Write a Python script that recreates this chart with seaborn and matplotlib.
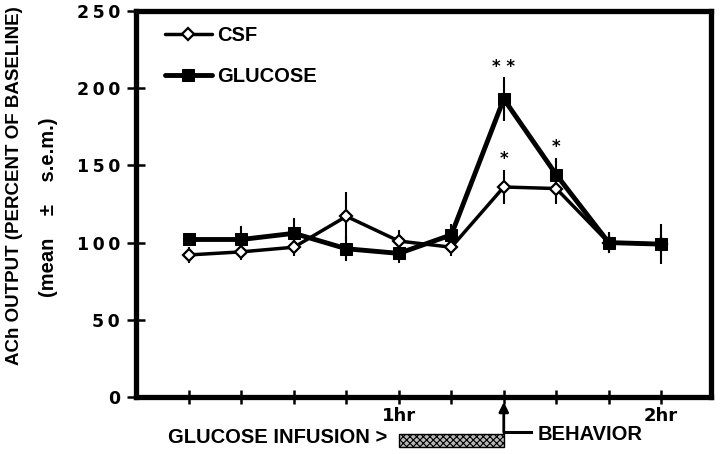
import seaborn as sns
import pandas as pd
import matplotlib.pyplot as plt
import matplotlib.transforms as mtransforms
from matplotlib.patches import Rectangle

# sampling slots, 1hr falls on slot 5 and 2hr on slot 10
slots = [1, 2, 3, 4, 5, 6, 7, 8, 9, 10]
csf_mean = [92, 94, 97, 117, 101, 97, 136, 135, 100, 99]
csf_sem = [5, 5, 6, 16, 7, 6, 11, 10, 6, 6]
glu_mean = [102, 102, 106, 96, 93, 105, 193, 144, 100, 99]
glu_sem = [4, 9, 10, 8, 6, 7, 14, 11, 7, 13]
hour_labels = ['', '', '', '', '1hr', '', '', '', '', '2hr']
y_ticks = [0, 50, 100, 150, 200, 250]

# significance marks
stars_x = [7, 7, 8]
stars_y = [214, 154, 162]
stars_txt = ['* *', '*', '*']

sns.set_style('ticks')
plt.rcParams['font.family'] = ['Liberation Sans', 'DejaVu Sans']
plt.rcParams['font.weight'] = 'bold'
plt.rcParams['hatch.linewidth'] = 0.8
for key in ['axes.edgecolor', 'xtick.color', 'ytick.color', 'text.color',
            'axes.labelcolor']:
    plt.rcParams[key] = 'black'

df = pd.DataFrame({
    'slot': slots * 2,
    'ach': csf_mean + glu_mean,
    'sem': csf_sem + glu_sem,
    'group': ['CSF'] * len(slots) + ['GLUCOSE'] * len(slots),
})

fig = plt.figure(figsize=(7.2, 4.54), dpi=100)
ax = fig.add_axes([0.1889, 0.1256, 0.7986, 0.8502])

csf = df[df['group'] == 'CSF']
glu = df[df['group'] == 'GLUCOSE']

# error bars first, thin vertical strokes, no caps
ax.errorbar(csf['slot'], csf['ach'], yerr=csf['sem'], fmt='none',
            ecolor='black', elinewidth=1.5, capsize=0, zorder=2)
ax.errorbar(glu['slot'], glu['ach'], yerr=glu['sem'], fmt='none',
            ecolor='black', elinewidth=1.5, capsize=0, zorder=2)

sns.lineplot(data=csf, x='slot', y='ach', ax=ax, color='black', lw=2.5,
             marker='D', markersize=6.5, markerfacecolor='white',
             markeredgecolor='black', markeredgewidth=1.6,
             label='CSF', errorbar=None, zorder=3)
sns.lineplot(data=glu, x='slot', y='ach', ax=ax, color='black', lw=3.5,
             marker='s', markersize=8, markerfacecolor='black',
             markeredgecolor='black', label='GLUCOSE', errorbar=None, zorder=4)

for sx, sy, st in zip(stars_x, stars_y, stars_txt):
    ax.text(sx, sy, st, ha='center', va='center', fontsize=12,
            fontweight='bold', family='DejaVu Sans')

# axes styling
ax.set_xlim(-0.01, 10.95)
ax.set_ylim(0, 250)
ax.set_xticks(slots)
ax.set_xticklabels(hour_labels, fontsize=13, fontweight='bold', family='DejaVu Sans')
ax.set_yticks(y_ticks)
ax.set_yticklabels(['\u2009'.join(str(v)) for v in y_ticks], fontsize=12.5,
                   fontweight='bold', family='DejaVu Sans')
ax.tick_params(axis='y', direction='inout', length=13, width=1.8, pad=5)
ax.tick_params(axis='x', direction='inout', length=10, width=1.8, pad=2)
for side in ['left', 'right', 'top', 'bottom']:
    ax.spines[side].set_visible(True)
    ax.spines[side].set_linewidth(3.8)
    ax.spines[side].set_color('black')
ax.set_xlabel('')
ax.set_ylabel('')

handles, labels = ax.get_legend_handles_labels()
ax.legend(handles, labels, loc='upper left', bbox_to_anchor=(0.05, 0.961),
          frameon=False, borderpad=0, borderaxespad=0, handlelength=2.33,
          handletextpad=0.25, labelspacing=1.1,
          prop={'family': 'Liberation Sans', 'weight': 'bold', 'size': 14.5})

# y axis titles
fig.text(15 / 720, 1 - 185.5 / 454, 'ACh OUTPUT (PERCENT OF BASELINE)',
         rotation=90, ha='center', va='center', fontsize=13.5, fontweight='bold')
fig.text(49 / 720, 1 - 207.5 / 454, '(mean    \u00b1    s.e.m.)',
         rotation=90, ha='center', va='center', fontsize=14.5, fontweight='bold')

# infusion bar and behaviour marker below the axis
trans = mtransforms.blended_transform_factory(ax.transData, ax.transAxes)
ax.text(4.78, -0.106, 'GLUCOSE INFUSION >', transform=trans, ha='right',
        va='center', fontsize=14.5, fontweight='bold')
ax.add_patch(Rectangle((5, -0.1295), 2, 0.0336, transform=trans, clip_on=False,
                       facecolor='#b8b8b8', edgecolor='black', hatch='xxxxx', lw=1))
ax.annotate('', xy=(7, -0.013), xycoords=trans, xytext=(7, -0.091),
            textcoords=trans, annotation_clip=False,
            arrowprops=dict(arrowstyle='-|>', lw=2, color='black',
                            mutation_scale=14, shrinkA=0, shrinkB=0))
ax.plot([7, 7.51], [-0.091, -0.091], transform=trans, clip_on=False,
        color='black', lw=2.2, solid_capstyle='projecting')
ax.text(7.64, -0.098, 'BEHAVIOR', transform=trans, ha='left', va='center',
        fontsize=14.5, fontweight='bold')

fig.savefig('out.png', dpi=100)
